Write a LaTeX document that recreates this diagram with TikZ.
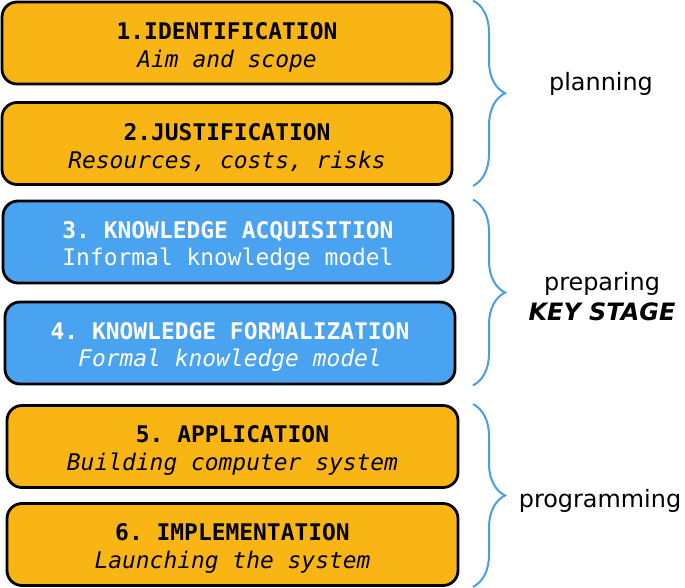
\documentclass[tikz,border=0pt]{standalone}
\usepackage{fontspec}
\setmainfont{DejaVu Sans}
\setmonofont{DejaVu Sans Mono}
\usetikzlibrary{decorations.pathreplacing}

\definecolor{stageorange}{RGB}{249,181,20}
\definecolor{stageblue}{RGB}{74,163,240}
\definecolor{braceblue}{RGB}{74,158,232}

\newcommand{\stagetop}{\rule{0pt}{25bp}}

\tikzset{
  stage/.style={draw=black, line width=2.8bp, rounded corners=15bp,
    minimum width=450bp, minimum height=82bp, inner sep=0pt,
    align=center, font=\ttfamily\fontsize{23}{28}\selectfont},
  orangestage/.style={stage, fill=stageorange, text=black},
  bluestage/.style={stage, fill=stageblue, text=white},
  phase/.style={align=center, font=\fontsize{24}{30}\selectfont},
  stagebrace/.style={draw=braceblue, line width=2bp, decorate,
    decoration={brace, amplitude=32bp}}
}

\begin{document}
\begin{tikzpicture}[x=1bp,y=-1bp]
%\draw[help lines,step=50] (0,0) grid (685,588);
\useasboundingbox[fill=white] (0,0) rectangle (685,588);

\node[orangestage] (ident) at (227,43)
  {\stagetop\textbf{1.IDENTIFICATION}\\\textit{Aim and scope}};
\node[orangestage] (justif) at (227,143.5)
  {\stagetop\textbf{2.JUSTIFICATION}\\\textit{Resources, costs, risks}};
\node[bluestage] (acquis) at (228,242)
  {\stagetop\textbf{3. KNOWLEDGE ACQUISITION}\\Informal knowledge model};
\node[bluestage] (formal) at (230,343)
  {\stagetop\textbf{4. KNOWLEDGE FORMALIZATION}\\\textit{Formal knowledge model}};
\node[orangestage, minimum width=451bp] (applic) at (232.5,446.5)
  {\stagetop\textbf{5. APPLICATION}\\\textit{Building computer system}};
\node[orangestage, minimum width=451bp] (implem) at (232.5,544.5)
  {\stagetop\textbf{6. IMPLEMENTATION}\\\textit{Launching the system}};

% brace ends
\coordinate (plantop) at (ident.north -| 473,0);
\coordinate (planbot) at (justif.south -| 473,0);
\coordinate (preptop) at (acquis.north -| 473,0);
\coordinate (prepbot) at (formal.south -| 473,0);
\coordinate (progtop) at (applic.north -| 473,0);
\coordinate (progbot) at (implem.south -| 473,0);

\draw[stagebrace] (plantop) -- (planbot);
\draw[stagebrace] (preptop) -- (prepbot);
\draw[stagebrace] (progtop) -- (progbot);

\node[phase] (planning) at (601,84) {planning};
\node[phase] (preparing) at (602,297)
  {preparing\\\textbf{\textit{KEY STAGE}}};
\node[phase] (programming) at (600,501) {programming};
\end{tikzpicture}
\end{document}
